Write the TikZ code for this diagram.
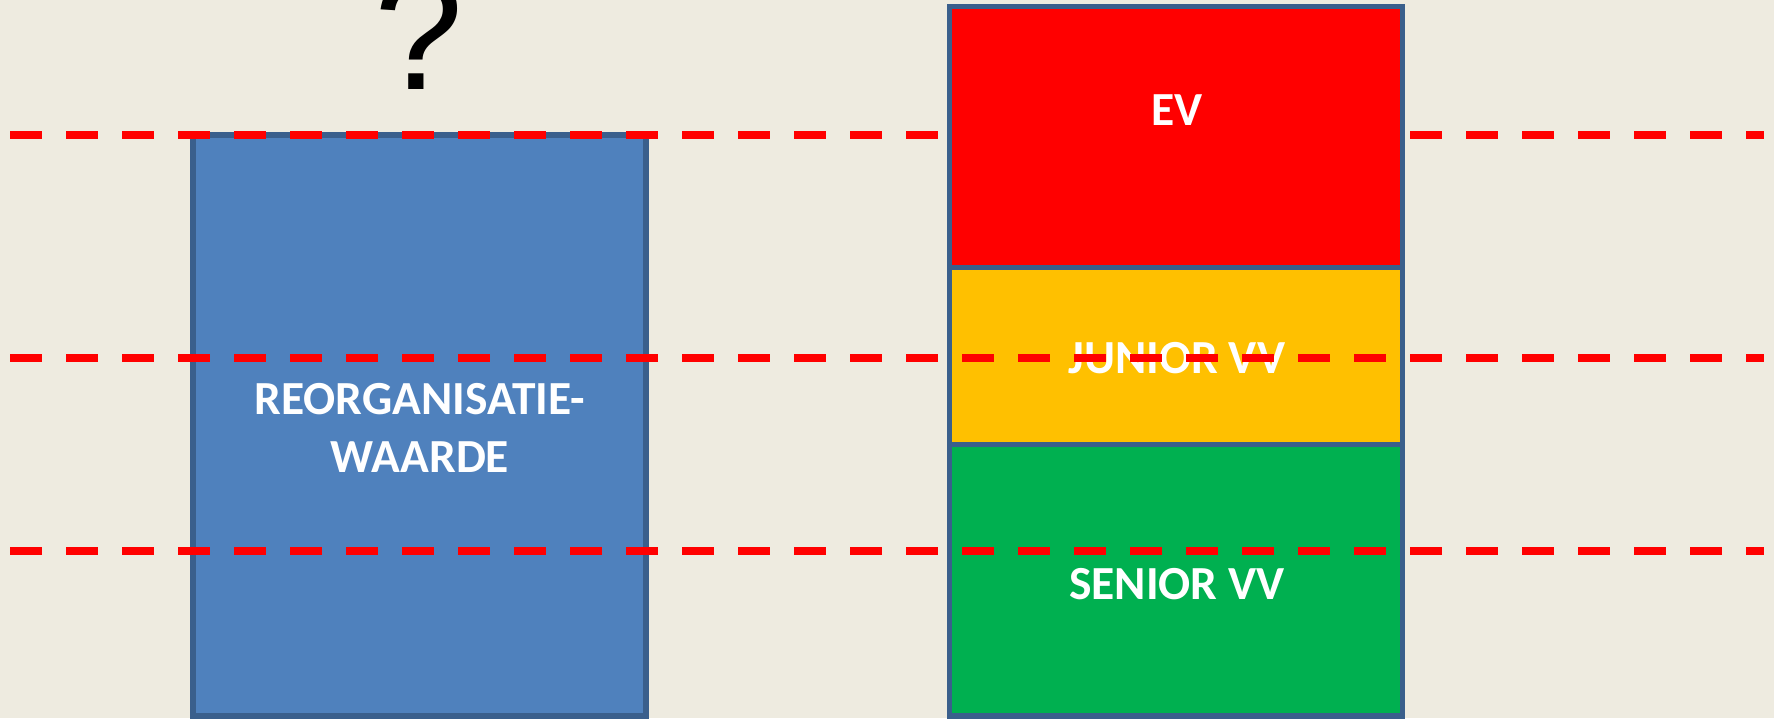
\documentclass[tikz,border=0pt]{standalone}
\usepackage{fontspec}
\setmainfont{Carlito}
\newfontfamily\qfont{Liberation Sans}
\definecolor{bgcol}{HTML}{EEEBE0}
\definecolor{edgecol}{HTML}{3A5F8C}
\definecolor{bluecol}{HTML}{4F81BD}
\definecolor{redcol}{HTML}{FF0000}
\definecolor{yellowcol}{HTML}{FFC000}
\definecolor{greencol}{HTML}{00B050}
\tikzset{
  block/.style={draw=edgecol, line width=5.5pt, inner sep=0pt, minimum width=453pt},
  blocklabel/.style={text=white, font=\fontsize{47.5}{58}\selectfont\bfseries, align=center, inner sep=0pt},
  level/.style={draw=redcol, line width=8pt, line cap=butt, dash pattern=on 32pt off 24pt},
}
\begin{document}
\begin{tikzpicture}[x=1pt, y=-1pt]
  \useasboundingbox (0,0) rectangle (1774,718);
  \fill[bgcol] (0,0) rectangle (1774,718);

  % left column
  \node[block, fill=bluecol, minimum height=581pt] (reorg) at (419.5,425.5) {};
  \node[blocklabel] (reorgtxt) at (420,428) {REORGANISATIE-\\WAARDE};
  \node[font=\qfont\fontsize{160}{160}\selectfont, anchor=base, inner sep=0pt] (q) at (419,89) {?};

  % upper level line runs behind the right column
  \coordinate (a1) at (10,135);
  \coordinate (b1) at (1764,135);
  \draw[level] (a1) -- (b1);

  % right column
  \node[block, fill=redcol, minimum height=260.8pt] (ev) at (1176,137.1) {};
  \node[block, fill=yellowcol, minimum height=177.2pt] (junior) at (1176,356.1) {};
  \node[block, fill=greencol, minimum height=271.3pt] (senior) at (1176,580.35) {};
  \node[blocklabel] (evtxt) at (1177,110) {EV};
  \node[blocklabel] (juniortxt) at (1177,358) {JUNIOR VV};
  \node[blocklabel] (seniortxt) at (1177,584) {SENIOR VV};

  % lower level lines run over everything
  \coordinate (a2) at (10,357.7);
  \coordinate (b2) at (1764,357.7);
  \coordinate (a3) at (10,551);
  \coordinate (b3) at (1764,551);
  \draw[level] (a2) -- (b2);
  \draw[level] (a3) -- (b3);
\end{tikzpicture}
\end{document}
